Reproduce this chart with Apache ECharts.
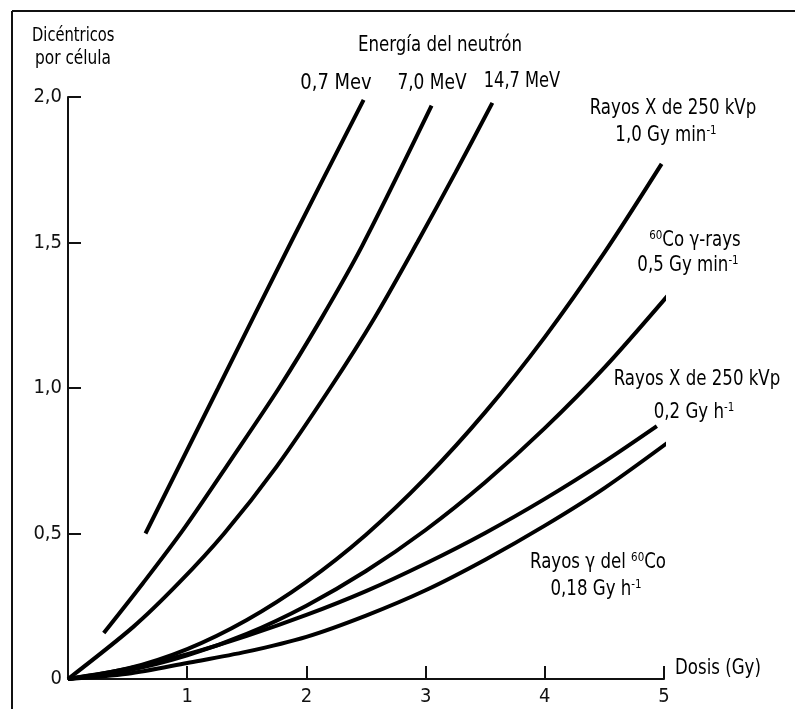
<!DOCTYPE html>
<html>
<head>
<meta charset="utf-8">
<script src="https://cdn.jsdelivr.net/npm/echarts@6/dist/echarts.min.js"></script>
<style>
  html, body { margin: 0; padding: 0; background: #fff; }
  #chart { width: 795px; height: 709px; }
</style>
</head>
<body>
<div id="chart"></div>
<script>
// dose (Gy) / dicentrics per cell
var n07 = [[0.65, 0.50], [1.26, 1.00], [1.87, 1.50], [2.48, 1.99]];
var n70 = [[0.30, 0.158], [0.63, 0.33], [0.97, 0.515], [1.37, 0.755], [1.77, 1.00], [2.12, 1.235], [2.47, 1.49], [3.05, 1.97]];
var n147 = [[0, 0], [0.55, 0.18], [0.93, 0.33], [1.31, 0.50], [1.75, 0.73], [2.20, 1.00], [2.57, 1.24], [2.93, 1.50], [3.25, 1.74], [3.56, 1.98]];
var xMin = [[0, 0], [0.5, 0.036], [1.0, 0.103], [1.5, 0.203], [2.0, 0.334], [2.5, 0.496], [3.0, 0.691], [3.5, 0.917], [4.0, 1.175], [4.5, 1.465], [4.98, 1.77]];
var coMin = [[0, 0], [0.5, 0.029], [1.0, 0.081], [1.5, 0.155], [2.0, 0.252], [2.5, 0.371], [3.0, 0.512], [3.5, 0.676], [4.0, 0.862], [4.5, 1.07], [5.12, 1.36]];
var xHour = [[0, 0], [0.5, 0.035], [1.0, 0.085], [1.5, 0.148], [2.0, 0.220], [2.5, 0.302], [3.0, 0.397], [3.5, 0.502], [4.0, 0.619], [4.5, 0.747], [4.94, 0.869]];
var coHour = [[0, 0], [0.5, 0.018], [1.0, 0.055], [1.5, 0.094], [2.0, 0.145], [2.5, 0.218], [3.0, 0.305], [3.5, 0.41], [4.0, 0.527], [4.5, 0.656], [5.06, 0.821]];

var xTicks = [0, 1, 2, 3, 4, 5];
var yTicks = [0, 0.5, 1.0, 1.5, 2.0];

var FONT = '"DejaVu Sans Condensed", "DejaVu Sans", sans-serif';

var chart = echarts.init(document.getElementById('chart'));

function curve(name, data) {
    return {
        name: name,
        type: 'line',
        data: data,
        smooth: 0.3,
        showSymbol: false,
        lineStyle: { color: '#000', width: 4 },
        z: 3
    };
}

function richFor(size) {
    return {
        n: { fontFamily: FONT, fontSize: size, color: '#111', lineHeight: size + 3 },
        s: { fontFamily: FONT, fontSize: Math.round(size * 0.62), color: '#111', lineHeight: Math.round(size * 0.62), verticalAlign: 'top' }
    };
}

// the original uses a condensed face, so squeeze the text a bit
function label(x, y, text, align, size, sx) {
    return {
        type: 'text',
        x: x,
        y: y,
        scaleX: sx || 0.88,
        style: {
            text: text,
            rich: richFor(size || 21),
            align: align || 'center',
            verticalAlign: 'middle'
        },
        z: 10
    };
}

var option = {
    backgroundColor: '#fff',
    animation: false,
    grid: { left: 68, top: 97, width: 596, height: 582 },
    xAxis: {
        type: 'value',
        min: xTicks[0],
        max: xTicks[xTicks.length - 1],
        interval: 1,
        axisLine: { lineStyle: { color: '#111', width: 2 } },
        axisTick: { inside: true, length: 13, lineStyle: { color: '#111', width: 2 } },
        splitLine: { show: false },
        axisLabel: {
            showMinLabel: false,
            margin: 8,
            color: '#111',
            fontFamily: FONT,
            fontSize: 20
        }
    },
    yAxis: {
        type: 'value',
        min: yTicks[0],
        max: yTicks[yTicks.length - 1],
        interval: 0.5,
        axisLine: { show: true, lineStyle: { color: '#111', width: 2 } },
        axisTick: { show: true, inside: true, length: 13, lineStyle: { color: '#111', width: 2 } },
        splitLine: { show: false },
        axisLabel: {
            margin: 6,
            color: '#111',
            fontFamily: FONT,
            fontSize: 20,
            formatter: function (v) {
                return v === 0 ? '0' : v.toFixed(1).replace('.', ',');
            }
        }
    },
    series: [
        curve('0,7 MeV', n07),
        curve('7,0 MeV', n70),
        curve('14,7 MeV', n147),
        curve('Rayos X 1,0 Gy/min', xMin),
        curve('60Co 0,5 Gy/min', coMin),
        curve('Rayos X 0,2 Gy/h', xHour),
        curve('60Co 0,18 Gy/h', coHour)
    ],
    graphic: [
        // frame
        { type: 'line', shape: { x1: 12, y1: 11, x2: 795, y2: 11 }, style: { stroke: '#111', lineWidth: 2 } },
        { type: 'line', shape: { x1: 12, y1: 11, x2: 12, y2: 709 }, style: { stroke: '#111', lineWidth: 2 } },
        label(32, 36, '{n|Dicéntricos}', 'left', 19, 0.86),
        label(35, 59, '{n|por célula}', 'left', 19, 0.9),
        label(440, 46, '{n|Energía del neutrón}'),
        label(336, 84, '{n|0,7 Mev}', 'center', 21, 0.95),
        label(432, 84, '{n|7,0 MeV}', 'center', 21, 0.9),
        label(522, 82, '{n|14,7 MeV}', 'center', 21, 0.86),
        label(673, 109, '{n|Rayos X de 250 kVp}'),
        label(666, 136, '{n|1,0 Gy min}{s|-1}'),
        label(695, 241, '{s|60}{n|Co γ-rays}'),
        label(688, 266, '{n|0,5 Gy min}{s|-1}'),
        label(697, 380, '{n|Rayos X de 250 kVp}'),
        label(694, 413, '{n|0,2 Gy h}{s|-1}'),
        label(598, 563, '{n|Rayos γ del }{s|60}{n|Co}'),
        label(596, 590, '{n|0,18 Gy h}{s|-1}'),
        label(675, 669, '{n|Dosis (Gy)}', 'left')
    ]
};

chart.setOption(option);
</script>
</body>
</html>
